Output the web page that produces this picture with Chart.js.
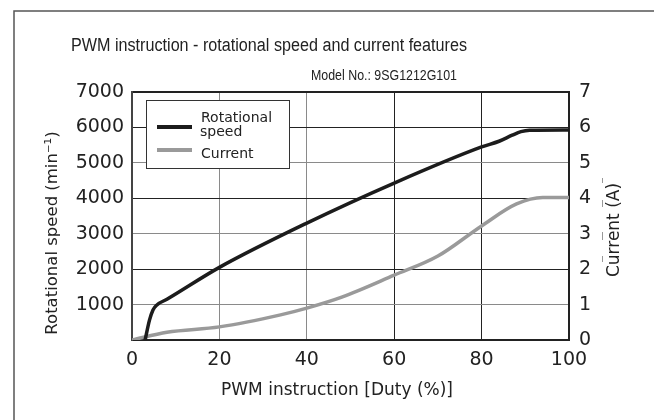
<!DOCTYPE html>
<html>
<head>
<meta charset="utf-8">
<script src="https://cdn.jsdelivr.net/npm/chart.js@4"></script>
<style>
  html, body { margin: 0; padding: 0; background: #fff; }
  #wrap { width: 654px; height: 420px; position: relative; }
</style>
</head>
<body>
<div id="wrap"><canvas id="chart" width="654" height="420"></canvas></div>
<script>
(function(){
const titleText = 'PWM instruction - rotational speed and current features';
const modelText = 'Model No.: 9SG1212G101';
const xTitle = 'PWM instruction [Duty (%)]';
const leftTitle = 'Rotational speed (min⁻¹)';
const rightTitle = 'Current (A)';
const speedLabel = 'Rotational speed';
const currentLabel = 'Current';

// duty (%) -> rotational speed (min-1)
const speedDuty = [3, 4, 4.8, 5.7, 8, 20, 40, 60, 80, 84, 87, 89, 91, 100];
const speedValues = [0, 560, 850, 990, 1150, 2050, 3300, 4430, 5450, 5610, 5780, 5880, 5920, 5930];
// duty (%) -> current (A)
const currentDuty = [0, 8, 20, 34, 40, 48, 60, 70, 80, 88, 94, 100];
const currentValues = [0, 0.22, 0.37, 0.71, 0.9, 1.21, 1.83, 2.37, 3.22, 3.84, 4.02, 4.02];

const FONT = '"Liberation Sans", Arial, Helvetica, sans-serif';
const WIDE = '"DejaVu Sans", Verdana, sans-serif';
const DARK = '#222';
const GREY = '#8a8a8a';

function points(xs, ys) {
    return xs.map((x, i) => ({x: x, y: ys[i]}));
}

// titles, frame and legend box
const decorPlugin = {
    id: 'decor',
    afterDraw(chart) {
        const ctx = chart.ctx;
        ctx.save();
        // outer frame
        ctx.strokeStyle = '#555';
        ctx.lineWidth = 1.5;
        ctx.strokeRect(14, 11, 700, 500);

        ctx.fillStyle = '#222';
        ctx.textBaseline = 'middle';
        ctx.font = '18px ' + FONT;
        ctx.textAlign = 'center';
        ctx.fillText(titleText, 269, 46, 396);

        ctx.font = '14.5px ' + FONT;
        ctx.textAlign = 'right';
        ctx.fillText(modelText, 457, 76, 146);

        ctx.font = '17px ' + WIDE;
        ctx.textAlign = 'center';
        ctx.fillText(xTitle, 337, 391);

        ctx.save();
        ctx.translate(53, 233);
        ctx.rotate(-Math.PI / 2);
        ctx.font = '16.5px ' + WIDE;
        ctx.fillText(leftTitle, 0, 0);
        ctx.restore();

        ctx.save();
        ctx.translate(615, 230);
        ctx.rotate(-Math.PI / 2);
        ctx.font = '17px ' + WIDE;
        ctx.fillText(rightTitle, 0, 0);
        ctx.restore();

        // little scan marks left of the right title
        ctx.strokeStyle = '#999';
        ctx.lineWidth = 1;
        [[178, 183], [200, 207], [232, 240], [256, 262]].forEach(([a, b]) => {
            ctx.beginPath();
            ctx.moveTo(602.5, a);
            ctx.lineTo(602.5, b);
            ctx.stroke();
        });

        // legend
        const ds = chart.data.datasets;
        ctx.fillStyle = '#fff';
        ctx.fillRect(146, 100, 143, 68);
        ctx.strokeStyle = '#333';
        ctx.lineWidth = 1;
        ctx.strokeRect(146.5, 100.5, 143, 68);
        ctx.lineWidth = 4;
        ctx.strokeStyle = ds[0].borderColor;
        ctx.beginPath(); ctx.moveTo(157, 127); ctx.lineTo(192, 127); ctx.stroke();
        ctx.strokeStyle = ds[1].borderColor;
        ctx.beginPath(); ctx.moveTo(157, 150); ctx.lineTo(192, 150); ctx.stroke();
        ctx.fillStyle = '#222';
        ctx.font = '14px ' + WIDE;
        ctx.textAlign = 'left';
        const words = ds[0].label.split(' ');
        ctx.fillText(words[0], 201, 118);
        ctx.fillText(words.slice(1).join(' '), 200, 132);
        ctx.fillText(ds[1].label, 201, 154);
        ctx.restore();
    }
};

new Chart(document.getElementById('chart'), {
    type: 'line',
    data: {
        datasets: [{
            label: speedLabel,
            data: points(speedDuty, speedValues),
            yAxisID: 'y',
            borderColor: '#1c1c1c',
            borderWidth: 3.5,
            pointRadius: 0,
            cubicInterpolationMode: 'monotone'
        }, {
            label: currentLabel,
            data: points(currentDuty, currentValues),
            yAxisID: 'y1',
            borderColor: '#9a9a9a',
            borderWidth: 3.5,
            pointRadius: 0,
            cubicInterpolationMode: 'monotone'
        }]
    },
    options: {
        responsive: false,
        animation: false,
        layout: { padding: { top: 92, left: 0, right: 0, bottom: 0 } },
        plugins: {
            legend: { display: false },
            tooltip: { enabled: false }
        },
        scales: {
            x: {
                type: 'linear',
                min: 0,
                max: 100,
                ticks: { stepSize: 20, padding: 9, color: '#222', font: { family: WIDE, size: 19 } },
                grid: {
                    drawTicks: false,
                    color: (c) => (c.tick && c.tick.value <= 40 ? GREY : DARK),
                    lineWidth: (c) => (c.tick && c.tick.value === 100 ? 2 : 1)
                },
                border: { color: DARK, width: 2 },
                afterFit: (s) => { s.height = 80; }
            },
            y: {
                position: 'left',
                min: 0,
                max: 7000,
                ticks: {
                    stepSize: 1000, padding: 8, color: '#222',
                    font: { family: WIDE, size: 19 },
                    callback: (v) => (v === 0 ? '' : v)
                },
                grid: {
                    drawTicks: false,
                    color: (c) => (c.tick && (c.tick.value % 2000 === 0 || c.tick.value === 7000) ? DARK : GREY),
                    lineWidth: (c) => (c.tick && c.tick.value === 7000 ? 2 : 1)
                },
                border: { color: '#444', width: 2 },
                afterFit: (s) => { s.width = 132; }
            },
            y1: {
                position: 'right',
                min: 0,
                max: 7,
                ticks: { stepSize: 1, padding: 10, color: '#222', font: { family: WIDE, size: 19 } },
                grid: { display: false, drawTicks: false },
                border: { color: DARK, width: 2 },
                afterFit: (s) => { s.width = 85; }
            }
        }
    },
    plugins: [decorPlugin]
});
}());
</script>
</body>
</html>
